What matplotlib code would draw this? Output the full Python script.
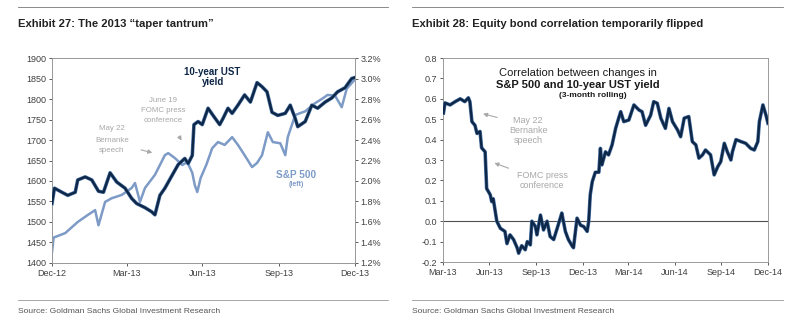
import pandas as pd
import matplotlib.pyplot as plt
import matplotlib.patheffects as pe

# Exhibit 27: S&P 500 (left axis) and 10-year UST yield (right axis)
spx_dates = ['2012-12-31', '2013-01-02', '2013-01-16', '2013-01-31', '2013-02-12', '2013-02-21',
             '2013-02-25', '2013-03-05', '2013-03-13', '2013-03-25', '2013-04-06', '2013-04-10',
             '2013-04-16', '2013-04-22', '2013-05-04', '2013-05-10', '2013-05-16', '2013-05-20',
             '2013-05-28', '2013-06-06', '2013-06-12', '2013-06-18', '2013-06-21', '2013-06-24',
             '2013-06-28', '2013-07-05', '2013-07-12', '2013-07-19', '2013-07-27', '2013-08-05',
             '2013-08-12', '2013-08-20', '2013-08-29', '2013-09-04', '2013-09-10', '2013-09-17',
             '2013-09-23', '2013-10-02', '2013-10-08', '2013-10-11', '2013-10-20', '2013-11-01',
             '2013-11-13', '2013-11-21', '2013-11-28', '2013-12-07', '2013-12-15', '2013-12-21',
             '2013-12-31']
spx = [1426, 1462, 1473, 1500, 1517, 1529, 1492, 1549, 1558, 1566, 1583, 1595,
       1549, 1583, 1615, 1639, 1663, 1668, 1656, 1639, 1646, 1620, 1590, 1573,
       1607, 1640, 1680, 1695, 1688, 1707, 1688, 1663, 1634, 1644, 1663, 1719,
       1695, 1692, 1663, 1707, 1761, 1770, 1790, 1800, 1810, 1808, 1780, 1825,
       1848]

ust_dates = ['2012-12-31', '2013-01-03', '2013-01-12', '2013-01-19', '2013-01-28', '2013-01-31',
             '2013-02-09', '2013-02-17', '2013-02-25', '2013-03-03', '2013-03-11', '2013-03-19',
             '2013-03-29', '2013-04-06', '2013-04-12', '2013-04-22', '2013-04-30', '2013-05-04',
             '2013-05-10', '2013-05-16', '2013-05-25', '2013-06-01', '2013-06-09', '2013-06-13',
             '2013-06-18', '2013-06-20', '2013-06-25', '2013-06-30', '2013-07-07', '2013-07-13',
             '2013-07-21', '2013-07-25', '2013-07-31', '2013-08-05', '2013-08-12', '2013-08-20',
             '2013-08-27', '2013-09-04', '2013-09-10', '2013-09-16', '2013-09-22', '2013-09-29',
             '2013-10-08', '2013-10-14', '2013-10-20', '2013-10-23', '2013-11-01', '2013-11-09',
             '2013-11-16', '2013-11-25', '2013-12-03', '2013-12-10', '2013-12-19', '2013-12-27',
             '2013-12-31']
ust = [1.78, 1.93, 1.89, 1.86, 1.89, 2.01, 2.04, 2.01, 1.90, 1.89, 2.08, 1.99,
       1.93, 1.83, 1.78, 1.74, 1.70, 1.67, 1.86, 1.93, 2.06, 2.16, 2.22, 2.17,
       2.25, 2.55, 2.58, 2.55, 2.71, 2.64, 2.55, 2.61, 2.71, 2.66, 2.74, 2.84,
       2.77, 2.96, 2.92, 2.87, 2.67, 2.64, 2.66, 2.74, 2.61, 2.53, 2.58, 2.74,
       2.71, 2.77, 2.81, 2.87, 2.91, 3.00, 3.01]

# Exhibit 28: 3-month rolling correlation
corr_dates = ['2013-04-01', '2013-04-04', '2013-04-14', '2013-04-24', '2013-05-04', '2013-05-13',
              '2013-05-20', '2013-05-23', '2013-05-27', '2013-06-02', '2013-06-06', '2013-06-12',
              '2013-06-15', '2013-06-22', '2013-06-25', '2013-07-02', '2013-07-05', '2013-07-08',
              '2013-07-15', '2013-07-22', '2013-07-31', '2013-08-04', '2013-08-10', '2013-08-17',
              '2013-08-24', '2013-08-27', '2013-09-02', '2013-09-09', '2013-09-13', '2013-09-19',
              '2013-09-22', '2013-09-29', '2013-10-02', '2013-10-09', '2013-10-15', '2013-10-22',
              '2013-10-28', '2013-11-04', '2013-11-11', '2013-11-17', '2013-11-20', '2013-11-27',
              '2013-12-03', '2013-12-10', '2013-12-13', '2013-12-20', '2013-12-27', '2014-01-02',
              '2014-01-09', '2014-01-12', '2014-01-15', '2014-01-19', '2014-01-25', '2014-02-01',
              '2014-02-04', '2014-02-07', '2014-02-14', '2014-02-20', '2014-02-27', '2014-03-06',
              '2014-03-12', '2014-03-16', '2014-03-22', '2014-04-01', '2014-04-11', '2014-04-21',
              '2014-04-27', '2014-05-04', '2014-05-14', '2014-05-20', '2014-05-27', '2014-06-03',
              '2014-06-12', '2014-06-19', '2014-06-26', '2014-07-06', '2014-07-12', '2014-07-19',
              '2014-07-28', '2014-08-04', '2014-08-11', '2014-08-17', '2014-08-24', '2014-08-30',
              '2014-09-09', '2014-09-16', '2014-09-23', '2014-09-29', '2014-10-06', '2014-10-12',
              '2014-10-19', '2014-10-22', '2014-10-29', '2014-11-08', '2014-11-17', '2014-11-27',
              '2014-12-04', '2014-12-11', '2014-12-14', '2014-12-21', '2014-12-27', '2014-12-31']
corr = [0.53, 0.58, 0.57, 0.586, 0.60, 0.586, 0.605, 0.586, 0.488, 0.47, 0.43, 0.44,
        0.36, 0.34, 0.16, 0.13, 0.096, 0.11, 0.0, -0.035, -0.05, -0.11, -0.067, -0.09,
        -0.13, -0.157, -0.12, -0.14, -0.10, -0.116, 0.0, -0.026, -0.067, 0.03, -0.043, 0.0,
        -0.075, -0.09, -0.034, 0.015, 0.04, -0.05, -0.09, -0.12, -0.13, 0.015, -0.02, -0.026,
        -0.05, 0.0, 0.13, 0.194, 0.24, 0.24, 0.357, 0.276, 0.34, 0.325, 0.374, 0.455,
        0.505, 0.537, 0.488, 0.496, 0.57, 0.545, 0.537, 0.47, 0.52, 0.586, 0.578, 0.505,
        0.455, 0.553, 0.488, 0.447, 0.414, 0.505, 0.513, 0.39, 0.374, 0.309, 0.325, 0.349,
        0.325, 0.227, 0.267, 0.292, 0.382, 0.34, 0.30, 0.34, 0.40, 0.39, 0.382, 0.357,
        0.349, 0.39, 0.488, 0.57, 0.52, 0.48]

left_ticks = ['2012-12-31', '2013-03-31', '2013-06-30', '2013-09-30', '2013-12-31']
left_labels = ['Dec-12', 'Mar-13', 'Jun-13', 'Sep-13', 'Dec-13']
right_ticks = ['2013-03-31', '2013-06-30', '2013-09-30', '2013-12-31',
               '2014-03-31', '2014-06-30', '2014-09-30', '2014-12-31']
right_labels = ['Mar-13', 'Jun-13', 'Sep-13', 'Dec-13', 'Mar-14', 'Jun-14', 'Sep-14', 'Dec-14']

navy = '#0f2747'
navy_edge = '#4a74a8'
light = '#7d9bc6'
grey_txt = '#a8a8a8'
tick_col = '#404040'
frame_col = '#9a9a9a'

plt.rcParams['font.family'] = ['Liberation Sans', 'DejaVu Sans']

fig = plt.figure(figsize=(7.96, 3.21), dpi=100)
outline = [pe.Stroke(linewidth=2.6, foreground=navy_edge), pe.Normal()]
arrow = dict(arrowstyle='-|>', color=grey_txt, lw=0.8, mutation_scale=6)


def note(ax, x, ys, lines, **kw):
    # one text per line, so the line spacing follows the reference
    for y, s in zip(ys, lines):
        ax.text(x, y, s, transform=ax.transAxes, ha='center', va='center', **kw)


# ---- left panel ----
ax1 = fig.add_axes([0.0653, 0.1807, 0.3807, 0.6386])
ax1.plot(pd.to_datetime(spx_dates), spx, color=light, lw=1.8, zorder=2)
ax1.set_ylim(1400, 1900)
ax1.set_yticks(range(1400, 1901, 50))
ax1.set_xlim(pd.Timestamp('2012-12-31'), pd.Timestamp('2013-12-31'))
ax1.set_xticks(pd.to_datetime(left_ticks))
ax1.set_xticklabels(left_labels)
ax2 = ax1.twinx()
ax2.plot(pd.to_datetime(ust_dates), ust, color=navy, lw=1.7, zorder=3, path_effects=outline)
ax2.set_ylim(1.2, 3.2)
ax2.set_yticks([1.2 + 0.2 * i for i in range(11)])
ax2.set_yticklabels(['%.1f%%' % (1.2 + 0.2 * i) for i in range(11)])

for a in (ax1, ax2):
    for s in a.spines.values():
        s.set_color(frame_col)
        s.set_linewidth(0.7)
    a.tick_params(labelsize=6.5, colors=tick_col, length=2, width=0.6, pad=2)

note(ax1, 0.53, [0.932, 0.883], ['10-year UST', 'yield'], fontsize=7, fontweight='bold', color=navy)
note(ax1, 0.366, [0.795, 0.746, 0.693], ['June 19', 'FOMC press', 'conference'],
     fontsize=5.7, color=grey_txt)
note(ax1, 0.198, [0.654, 0.600, 0.551], ['May 22', 'Bernanke', 'speech'], fontsize=5.7, color=grey_txt)
note(ax1, 0.805, [0.429], ['S&P 500'], fontsize=7.2, fontweight='bold', color=light)
note(ax1, 0.805, [0.382], ['(left)'], fontsize=5, fontweight='bold', color=light)
ax1.annotate('', xy=(0.432, 0.585), xytext=(0.415, 0.63), xycoords='axes fraction', arrowprops=arrow)
ax1.annotate('', xy=(0.34, 0.535), xytext=(0.285, 0.555), xycoords='axes fraction', arrowprops=arrow)

# ---- right panel ----
ax3 = fig.add_axes([0.5565, 0.1838, 0.4083, 0.6355])
ax3.plot(pd.to_datetime(corr_dates), corr, color=navy, lw=1.7, zorder=3, path_effects=outline)
ax3.axhline(0, color='#505050', lw=0.8, zorder=1)
ax3.set_ylim(-0.2, 0.8)
ax3.set_yticks([-0.2 + 0.1 * i for i in range(11)])
ax3.set_yticklabels(['%.1f' % (-0.2 + 0.1 * i) for i in range(11)])
ax3.set_xlim(pd.Timestamp('2013-03-31'), pd.Timestamp('2014-12-31'))
ax3.set_xticks(pd.to_datetime(right_ticks))
ax3.set_xticklabels(right_labels)
for s in ax3.spines.values():
    s.set_color(frame_col)
    s.set_linewidth(0.7)
ax3.tick_params(labelsize=6.5, colors=tick_col, length=2, width=0.6, pad=2)

note(ax3, 0.415, [0.926], ['Correlation between changes in'], fontsize=8, color='#1a1a1a')
note(ax3, 0.415, [0.868], ['S&P 500 and 10-year UST yield'], fontsize=8, fontweight='bold', color='#1a1a1a')
note(ax3, 0.46, [0.814], ['(3-month rolling)'], fontsize=6, fontweight='bold', color='#1a1a1a')
note(ax3, 0.262, [0.696, 0.647, 0.598], ['May 22', 'Bernanke', 'speech'], fontsize=6.5, color=grey_txt)
note(ax3, 0.305, [0.422, 0.377], ['FOMC press', 'conference'], fontsize=6.5, color=grey_txt)
ax3.annotate('', xy=(0.115, 0.73), xytext=(0.175, 0.705), xycoords='axes fraction', arrowprops=arrow)
ax3.annotate('', xy=(0.15, 0.49), xytext=(0.21, 0.455), xycoords='axes fraction', arrowprops=arrow)

# ---- titles, rules, sources ----
fig.text(0.0226, 0.925, 'Exhibit 27: The 2013 \u201ctaper tantrum\u201d', fontsize=8.1,
         fontweight='bold', color='#222222', va='center')
fig.text(0.518, 0.925, 'Exhibit 28: Equity bond correlation temporarily flipped', fontsize=8.1,
         fontweight='bold', color='#222222', va='center')
for x0, x1 in [(0.0226, 0.487), (0.518, 0.984)]:
    fig.add_artist(plt.Line2D([x0, x1], [0.979, 0.979], color='#777777', lw=0.6))
    fig.add_artist(plt.Line2D([x0, x1], [0.065, 0.065], color='#999999', lw=0.6))
fig.text(0.0226, 0.03, 'Source: Goldman Sachs Global Investment Research', fontsize=6.1,
         color='#555555', va='center')
fig.text(0.518, 0.03, 'Source: Goldman Sachs Global Investment Research', fontsize=6.1,
         color='#555555', va='center')

plt.savefig('out.png', dpi=100)
